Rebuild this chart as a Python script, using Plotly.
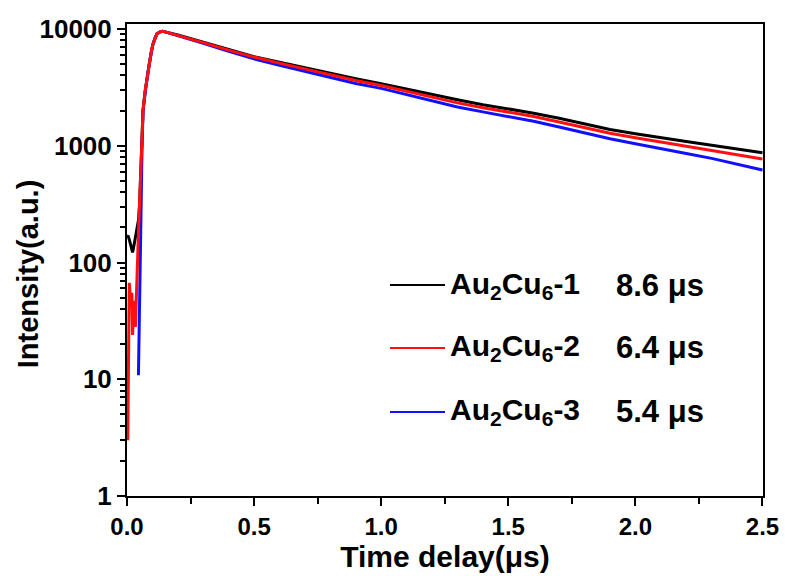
import plotly.graph_objects as go

# ---- data ----
decay_t = [0.20, 0.30, 0.40, 0.50, 0.60, 0.70, 0.80, 0.90, 1.00, 1.10, 1.20, 1.30,
           1.40, 1.50, 1.60, 1.70, 1.80, 1.90, 2.00, 2.10, 2.20, 2.30, 2.40, 2.50]

s1_rise_t = [0.000, 0.004, 0.010, 0.016, 0.022, 0.029, 0.035, 0.040, 0.045, 0.049, 0.053,
             0.059, 0.063, 0.071, 0.079, 0.087, 0.095, 0.102, 0.110, 0.118, 0.130, 0.140, 0.150]
s1_rise_i = [165, 170, 155, 138, 122, 146, 175, 200, 230, 300, 500,
             960, 2000, 2900, 3800, 5000, 6300, 7400, 8400, 9100, 9450, 9550, 9450]
s1_decay = [8900, 7700, 6650, 5800, 5200, 4650, 4150, 3750, 3400, 3050, 2750, 2480,
            2250, 2080, 1900, 1720, 1540, 1380, 1270, 1170, 1090, 1010, 940, 870]

s2_rise_t = [0.003, 0.006, 0.009, 0.013, 0.016, 0.019, 0.022, 0.026, 0.029, 0.033, 0.036,
             0.041, 0.047, 0.053, 0.059, 0.063, 0.071, 0.079, 0.087, 0.095, 0.102, 0.110,
             0.118, 0.130, 0.140, 0.150]
s2_rise_i = [3, 30, 67, 50, 42, 55, 24, 38, 47, 28, 45,
             130, 240, 500, 960, 2000, 2900, 3800, 5000, 6300, 7400, 8400,
             9100, 9450, 9550, 9450]
s2_decay = [8850, 7650, 6600, 5750, 5100, 4550, 4050, 3620, 3280, 2920, 2620, 2330,
            2120, 1950, 1780, 1600, 1430, 1280, 1170, 1070, 990, 910, 840, 770]

s3_rise_t = [0.045, 0.050, 0.054, 0.059, 0.063, 0.071, 0.079, 0.087, 0.095, 0.102, 0.110,
             0.118, 0.130, 0.140, 0.150]
s3_rise_i = [10.8, 60, 340, 900, 2000, 2900, 3800, 5000, 6300, 7400, 8400,
             9100, 9450, 9550, 9450]
s3_decay = [8800, 7550, 6450, 5550, 4900, 4350, 3850, 3420, 3100, 2750, 2440, 2150,
            1950, 1780, 1620, 1450, 1290, 1150, 1040, 950, 860, 780, 700, 620]

names = ["Au<sub>2</sub>Cu<sub>6</sub>-1", "Au<sub>2</sub>Cu<sub>6</sub>-2", "Au<sub>2</sub>Cu<sub>6</sub>-3"]
lifetimes = ["8.6 μs", "6.4 μs", "5.4 μs"]
colors = ["#000000", "#ff1010", "#1010ff"]

x_tickvals = [0, 0.5, 1.0, 1.5, 2.0, 2.5]
x_ticktext = ["0.0", "0.5", "1.0", "1.5", "2.0", "2.5"]
y_tickvals = [1, 10, 100, 1000, 10000]
y_ticktext = ["1", "10", "100", "1000", "10000"]

FONT = "Liberation Sans, Arial, sans-serif"

series = [
    (s1_rise_t + decay_t, s1_rise_i + s1_decay),
    (s2_rise_t + decay_t, s2_rise_i + s2_decay),
    (s3_rise_t + decay_t, s3_rise_i + s3_decay),
]

fig = go.Figure()
# draw order: black, blue, red (red on top)
for idx in [0, 2, 1]:
    t, v = series[idx]
    fig.add_trace(go.Scatter(x=t, y=v, mode="lines", name=names[idx],
                             line=dict(color=colors[idx], width=3),
                             showlegend=False))

# custom legend (lines + labels)
leg_y = [0.447, 0.3136, 0.178]
for i in range(3):
    fig.add_shape(type="line", xref="paper", yref="paper",
                  x0=0.4135, x1=0.50, y0=leg_y[i], y1=leg_y[i],
                  line=dict(color=colors[i], width=2))
    fig.add_annotation(xref="paper", yref="paper", x=0.504, y=leg_y[i],
                       xanchor="left", yanchor="middle", showarrow=False,
                       text="<b>" + names[i] + "</b>",
                       font=dict(family=FONT, size=30, color="black"))
    fig.add_annotation(xref="paper", yref="paper", x=0.765, y=leg_y[i],
                       xanchor="left", yanchor="middle", showarrow=False,
                       text="<b>" + lifetimes[i] + "</b>",
                       font=dict(family=FONT, size=31, color="black"))

# y-axis title as rotated annotation
fig.add_annotation(xref="paper", yref="paper", x=-0.1557, y=0.472,
                   xanchor="center", yanchor="middle", textangle=-90, showarrow=False,
                   text="<b>Intensity(a.u.)</b>",
                   font=dict(family=FONT, size=29, color="black"))

minor_y = [m * 10 ** e for e in range(4) for m in range(2, 10)]

fig.update_layout(
    width=785, height=576,
    margin=dict(l=127, r=22, t=24, b=80),
    paper_bgcolor="white", plot_bgcolor="white",
    font=dict(family=FONT, color="black"),
    xaxis=dict(
        range=[0, 2.502], tickmode="array",
        tickvals=x_tickvals,
        ticktext=["<b>" + s + "</b>" for s in x_ticktext],
        ticks="outside", ticklen=8, tickwidth=2, tickcolor="black",
        minor=dict(tickvals=[0.25, 0.75, 1.25, 1.75, 2.25], ticks="outside",
                   ticklen=6, tickwidth=2, tickcolor="black"),
        showline=True, linewidth=2, linecolor="black", mirror=True,
        showgrid=False, zeroline=False, automargin=False,
        tickfont=dict(family=FONT, size=24, color="black"),
        title=dict(text="<b>Time delay(μs)</b>", standoff=5,
                   font=dict(family=FONT, size=30, color="black")),
    ),
    yaxis=dict(
        type="log", range=[0, 4.043], tickmode="array",
        tickvals=y_tickvals, ticktext=["<b>" + s + "</b>" for s in y_ticktext],
        ticks="outside", ticklen=8, tickwidth=2, tickcolor="black",
        minor=dict(tickvals=minor_y, ticks="outside", ticklen=5, tickwidth=1.5,
                   tickcolor="black"),
        showline=True, linewidth=2, linecolor="black", mirror=True,
        showgrid=False, zeroline=False, automargin=False,
        tickfont=dict(family=FONT, size=26, color="black"),
    ),
)

fig.write_html("out.html",
               config={"displayModeBar": False},
               post_script="document.body.style.margin='0';document.body.style.overflow='hidden';")
